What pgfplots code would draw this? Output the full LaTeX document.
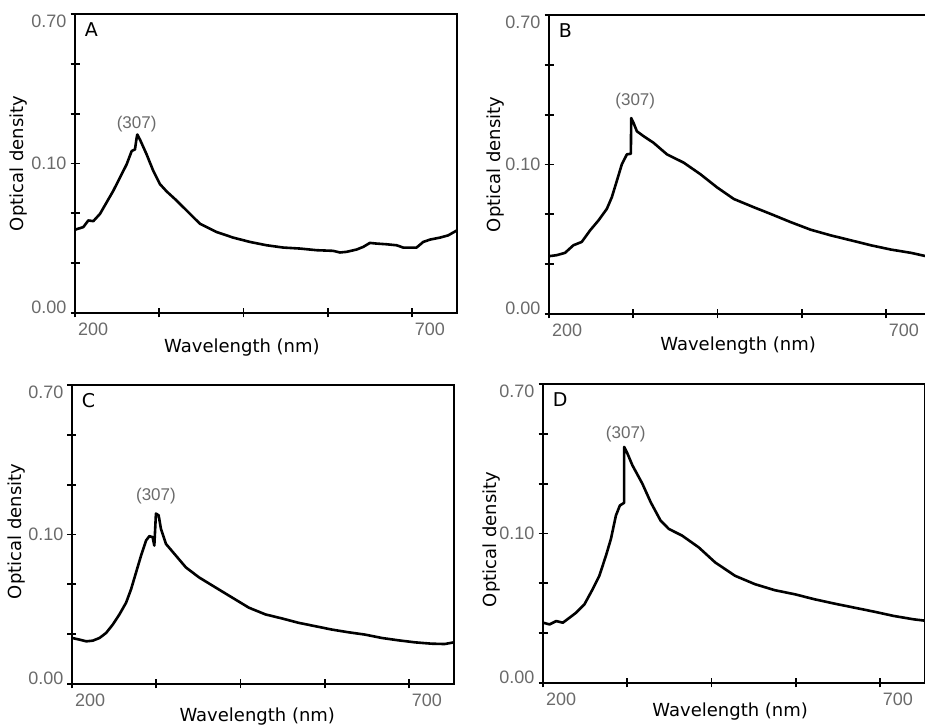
\documentclass[border=0pt]{standalone}
\usepackage{pgfplots}
\pgfplotsset{compat=1.18}
\usepackage{fontspec}
\setmainfont{DejaVu Sans}
\newfontfamily\numfont{Liberation Sans}
\definecolor{ticklbl}{HTML}{6A6A6A}

% y axis of the scan is not linear: internal units 0..6, labelled by hand
\pgfplotsset{
  spectrum/.style={
    scale only axis, width=191pt, height=149.5pt,
    anchor=south west,
    xmin=200, xmax=767, ymin=0, ymax=6,
    xtick={200,325,450,575,700}, xticklabels={200,,,,700},
    ytick={0,...,6},
    yticklabels={\raisebox{3pt}[\height][\depth]{0.00},,,0.10,,,\raisebox{-3.5pt}[\height][\depth]{0.70}},
    xtick pos=bottom, ytick pos=left,
    tick align=center, major tick length=4.5pt,
    axis line style={line width=1pt},
    every tick/.style={black, line width=0.9pt},
    tick label style={font=\numfont\fontsize{9}{10}\selectfont, text=ticklbl},
    xticklabel style={anchor=north west, xshift=-2pt, yshift=1pt},
    yticklabel style={anchor=east, xshift=1.5pt},
    xlabel={Wavelength (nm)}, ylabel={Optical density},
    label style={font=\fontsize{9}{11}\selectfont},
    curve/.style={black, line width=1.3pt, line join=round},
  },
  xlab/.style 2 args={xlabel style={at={(axis description cs:#1,#2)}, anchor=center}},
  ylab/.style 2 args={ylabel style={at={(axis description cs:#1,#2)}, anchor=center, rotate=0}},
}
\newcommand{\panel}[1]{\node[anchor=north west, inner sep=0, font=\fontsize{9.5}{11}\selectfont] at (rel axis cs:0.025,0.972) {#1};}
\newcommand{\peak}[2]{\node[text=ticklbl, font=\numfont\fontsize{8.5}{10}\selectfont] at (axis cs:#1,#2) {(307)};}

\begin{document}
\begin{tikzpicture}
\useasboundingbox (0,0) rectangle (462.5pt,363pt);

% A
\begin{axis}[spectrum, at={(37.5pt,206.5pt)}, xlab={0.437}{-0.117}, ylab={-0.149}{0.5}]
\addplot[curve] table {
200.0 1.671
212.4 1.724
219.8 1.857
227.2 1.843
237.1 1.989
247.0 2.221
256.9 2.454
266.8 2.719
276.7 2.984
284.1 3.249
289.0 3.282
291.5 3.515
292.5 3.581
296.4 3.481
306.3 3.183
316.2 2.851
326.1 2.586
336.0 2.440
350.9 2.255
365.7 2.056
385.5 1.790
410.2 1.625
434.9 1.512
459.7 1.426
484.4 1.359
509.1 1.313
533.9 1.293
558.6 1.260
583.3 1.247
593.2 1.214
603.1 1.227
617.9 1.273
627.8 1.326
637.7 1.406
647.6 1.393
662.5 1.379
677.3 1.359
687.2 1.313
707.0 1.313
716.9 1.426
726.8 1.472
741.6 1.512
754.0 1.558
767.0 1.658
};
\panel{A}
\peak{291.5}{3.80}
\end{axis}

% B
\begin{axis}[spectrum, at={(274.5pt,206pt)}, xlab={0.495}{-0.104}, ylab={-0.141}{0.5}]
\addplot[curve] table {
200.0 1.160
211.4 1.180
223.8 1.227
236.2 1.379
248.6 1.446
261.0 1.678
273.4 1.877
285.8 2.109
293.2 2.341
300.7 2.672
308.1 3.004
315.6 3.203
321.5 3.216
322.0 3.932
325.5 3.833
330.4 3.667
340.4 3.568
355.2 3.435
375.1 3.203
399.9 3.037
424.7 2.805
449.5 2.540
474.3 2.308
504.0 2.142
528.8 2.009
558.6 1.844
588.4 1.691
618.1 1.578
647.9 1.479
677.6 1.379
707.4 1.293
737.2 1.227
759.5 1.160
767.0 1.150
};
\panel{B}
\peak{328}{4.28}
\end{axis}

% C
\begin{axis}[spectrum, at={(36pt,21pt)}, xlab={0.485}{-0.110}, ylab={-0.144}{0.51}]
\addplot[curve] table {
200.0 0.924
211.3 0.890
221.2 0.856
231.0 0.870
240.9 0.924
250.7 1.025
260.6 1.194
270.4 1.396
280.3 1.632
287.7 1.902
295.1 2.239
302.5 2.576
309.9 2.879
314.8 2.967
319.7 2.947
322.2 2.778
324.6 3.419
328.6 3.385
332.0 3.115
339.4 2.812
354.2 2.576
369.0 2.340
388.7 2.138
413.3 1.935
437.9 1.733
462.6 1.531
487.2 1.396
511.8 1.315
536.5 1.227
561.1 1.160
585.7 1.092
610.3 1.038
635.0 0.991
659.6 0.924
684.2 0.877
708.9 0.836
733.5 0.809
753.2 0.802
767.0 0.836
};
\panel{C}
\peak{324.6}{3.78}
\end{axis}

% D
\begin{axis}[spectrum, at={(271.5pt,21.5pt)}, xlab={0.49}{-0.097}, ylab={-0.134}{0.48}]
\addplot[curve] table {
200.0 1.210
209.8 1.176
219.7 1.243
229.5 1.210
239.3 1.310
249.2 1.411
261.5 1.579
273.7 1.882
283.6 2.151
293.4 2.554
300.8 2.890
308.2 3.360
314.1 3.562
320.4 3.616
320.5 4.738
325.4 4.603
332.7 4.368
347.5 3.999
359.8 3.629
374.5 3.259
386.8 3.091
406.5 2.957
431.1 2.722
455.6 2.419
485.1 2.151
514.6 1.983
544.1 1.862
573.6 1.781
603.1 1.680
632.6 1.593
662.1 1.512
691.6 1.431
721.1 1.344
750.6 1.277
762.9 1.257
767.0 1.250
};
\panel{D}
\peak{322.9}{4.99}
\end{axis}
\end{tikzpicture}
\end{document}
